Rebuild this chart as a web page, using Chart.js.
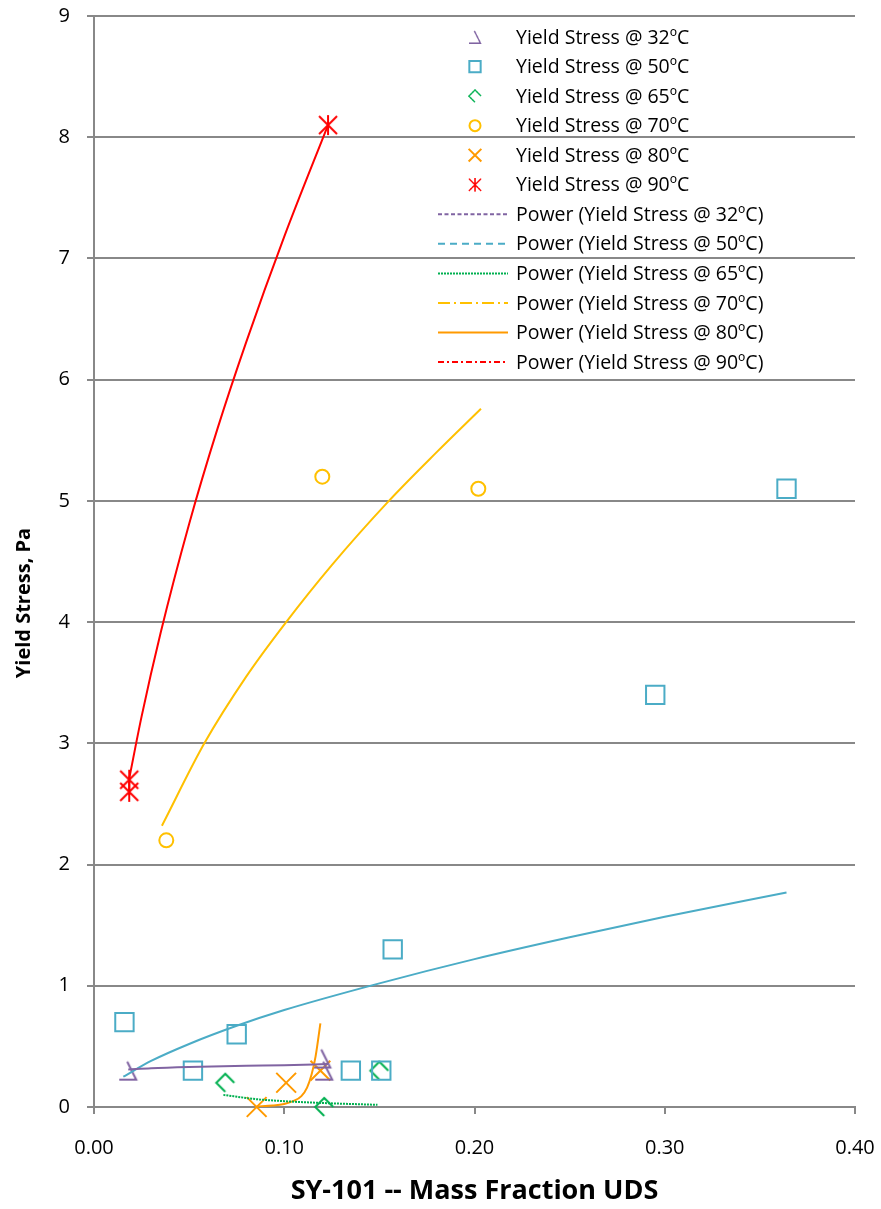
<!DOCTYPE html>
<html>
<head>
<meta charset="utf-8">
<script src="https://cdn.jsdelivr.net/npm/chart.js@4.4.0/dist/chart.umd.min.js"></script>
<style>
  html,body{margin:0;padding:0;background:#fff;}
  #wrap{width:881px;height:1209px;}
</style>
</head>
<body>
<div id="wrap"><canvas id="chart" width="881" height="1209"></canvas></div>
<script>
// ---------- data ----------
const xTicks = [0.00, 0.10, 0.20, 0.30, 0.40];
const yTicks = [0, 1, 2, 3, 4, 5, 6, 7, 8, 9];

// measured points
const x32 = [0.018, 0.121, 0.120];
const y32 = [0.3, 0.3, 0.4];
const x50 = [0.016, 0.052, 0.075, 0.135, 0.151, 0.157, 0.295, 0.364];
const y50 = [0.7, 0.3, 0.6, 0.3, 0.3, 1.3, 3.4, 5.1];
const x65 = [0.069, 0.121, 0.150];
const y65 = [0.2, 0.0, 0.3];
const x70 = [0.038, 0.120, 0.202];
const y70 = [2.2, 5.2, 5.1];
const x80 = [0.0855, 0.101, 0.119];
const y80 = [0.0, 0.2, 0.3];
const x90 = [0.0185, 0.0185, 0.123];
const y90 = [2.6, 2.7, 8.1];

// power trendlines, sampled along the drawn curves
const tx32 = [0.018, 0.03, 0.05, 0.08, 0.10, 0.123];
const ty32 = [0.31, 0.32, 0.33, 0.34, 0.345, 0.355];
const tx50 = [0.0154, 0.03, 0.05, 0.075, 0.10, 0.15, 0.20, 0.25, 0.30, 0.364];
const ty50 = [0.25, 0.38, 0.52, 0.67, 0.80, 1.02, 1.22, 1.40, 1.57, 1.77];
const tx65 = [0.068, 0.085, 0.10, 0.12, 0.149];
const ty65 = [0.10, 0.065, 0.048, 0.033, 0.018];
const tx70 = [0.0357, 0.058, 0.080, 0.101, 0.125, 0.155, 0.180, 0.2034];
const ty70 = [2.32, 3.0, 3.55, 4.0, 4.47, 5.0, 5.4, 5.76];
const tx80 = [0.0855, 0.094, 0.100, 0.105, 0.109, 0.112, 0.1144, 0.1165, 0.119];
const ty80 = [0.004, 0.012, 0.025, 0.05, 0.09, 0.16, 0.27, 0.42, 0.69];
const tx90 = [0.0184, 0.025, 0.035, 0.05, 0.065, 0.08, 0.10, 0.123];
const ty90 = [2.7, 3.22, 3.91, 4.81, 5.6, 6.31, 7.18, 8.1];

const temps = ["32ºC", "50ºC", "65ºC", "70ºC", "80ºC", "90ºC"];
const colors = ["#8064a2", "#4bacc6", "#00b050", "#ffc000", "#ff9a00", "#ff0000"];

// ---------- helpers ----------
const FONT = "'Open Sans', Lato, sans-serif";
const pts = (xs, ys) => xs.map((x, i) => ({ x: x, y: ys[i] }));

function mk(draw){
  const c = document.createElement("canvas");
  c.width = 22; c.height = 22;
  const g = c.getContext("2d");
  g.lineWidth = 2; g.lineJoin = "miter";
  draw(g);
  return c;
}
// Excel-ish marker shapes
const triMark = mk(g=>{ g.strokeStyle = colors[0]; g.beginPath(); g.moveTo(10,2); g.lineTo(19,20); g.lineTo(2,20); g.stroke(); });
const diaMark = mk(g=>{ g.strokeStyle = colors[2]; g.beginPath(); g.moveTo(20,11); g.lineTo(11,2); g.lineTo(2,11); g.lineTo(11,20); g.stroke(); });
const starMark = mk(g=>{ g.strokeStyle = colors[5]; g.beginPath();
  g.moveTo(2,2); g.lineTo(20,20); g.moveTo(20,2); g.lineTo(2,20); g.moveTo(11,1); g.lineTo(11,21); g.stroke(); });

const markStyle = [triMark, "rect", diaMark, "circle", "crossRot", starMark];
const markRadius = [11, 13, 11, 7, 14, 11];
const legendRadius = [0, 8, 0, 5.5, 9, 0];
const legendDash = [[4,2.5], [7,5], [2,1], [12,4,2,4], [], [6,3,2,3]];
const plotDash = [[], [], [2,1], [], [], []];

const pointX = [x32, x50, x65, x70, x80, x90];
const pointY = [y32, y50, y65, y70, y80, y90];
const trendX = [tx32, tx50, tx65, tx70, tx80, tx90];
const trendY = [ty32, ty50, ty65, ty70, ty80, ty90];

const datasets = [];
temps.forEach((t, i)=>{
  datasets.push({
    label: "Yield Stress @ " + t,
    data: pts(trendX[i], trendY[i]),
    showLine: true, pointRadius: 0, borderWidth: 2,
    borderColor: colors[i], borderDash: plotDash[i],
    cubicInterpolationMode: "monotone",
    _legend: { kind: "line", dash: legendDash[i] },
    _name: "Power (Yield Stress @ " + t + ")"
  });
});
temps.forEach((t, i)=>{
  datasets.push({
    label: "Yield Stress @ " + t,
    data: pts(pointX[i], pointY[i]),
    showLine: false, clip: false,
    pointStyle: markStyle[i], pointRadius: markRadius[i], pointHoverRadius: markRadius[i],
    borderColor: colors[i], backgroundColor: "rgba(0,0,0,0)", pointBorderWidth: 2,
    _legend: { kind: "point", r: legendRadius[i] },
    _name: "Yield Stress @ " + t
  });
});

// legend drawn inside the plot, like the Excel one
const legendPlugin = {
  id: "excelLegend",
  afterDraw(chart){
    const ctx = chart.ctx;
    const order = [6,7,8,9,10,11,0,1,2,3,4,5];
    ctx.save();
    ctx.font = "19.5px " + FONT;
    ctx.textBaseline = "middle";
    ctx.fillStyle = "#000";
    order.forEach((di, row)=>{
      const ds = chart.data.datasets[di];
      const cy = 37 + row * 29.55;
      if (ds._legend.kind === "point"){
        const st = ds.pointStyle;
        if (st instanceof HTMLCanvasElement){
          ctx.drawImage(st, 475 - 7.5, cy - 7.5, 15, 15);
        } else {
          ctx.save();
          ctx.strokeStyle = ds.borderColor; ctx.fillStyle = "rgba(0,0,0,0)"; ctx.lineWidth = 2;
          Chart.helpers.drawPoint(ctx, { pointStyle: st, radius: ds._legend.r, borderWidth: 2, rotation: 0 }, 475, cy);
          ctx.restore();
        }
      } else {
        ctx.save();
        ctx.strokeStyle = ds.borderColor; ctx.lineWidth = 2;
        ctx.setLineDash(ds._legend.dash);
        ctx.beginPath(); ctx.moveTo(438, cy); ctx.lineTo(508, cy); ctx.stroke();
        ctx.restore();
      }
      ctx.fillStyle = "#000";
      ctx.fillText(ds._name, 516, cy + 1);
    });
    // y axis title
    ctx.save();
    ctx.translate(24, 603);
    ctx.rotate(-Math.PI / 2);
    ctx.font = "bold 20px " + FONT;
    ctx.textAlign = "center";
    ctx.textBaseline = "middle";
    ctx.fillText("Yield Stress, Pa", 0, 0);
    ctx.restore();
    ctx.restore();
  }
};

const GRID = "#888888";

new Chart(document.getElementById("chart"), {
  type: "scatter",
  data: { datasets: datasets },
  options: {
    responsive: false,
    animation: false,
    devicePixelRatio: 1,
    layout: { padding: { top: 15, right: 26, left: 0, bottom: 0 } },
    plugins: { legend: { display: false }, tooltip: { enabled: false } },
    scales: {
      x: {
        type: "linear", min: 0, max: 0.4,
        afterFit: s => { s.height = 102; s.paddingLeft = 0; s.paddingRight = 0; },
        afterBuildTicks: s => { s.ticks = xTicks.map(v => ({ value: v })); },
        ticks: { callback: v => Number(v).toFixed(2), color: "#000", font: { family: FONT, size: 20 }, padding: 22, maxRotation: 0 },
        grid: { drawOnChartArea: false, drawTicks: true, tickLength: 7, color: GRID, lineWidth: 2 },
        border: { display: true, color: GRID, width: 2 },
        title: { display: true, text: "SY-101 -- Mass Fraction UDS", color: "#000",
                 font: { family: FONT, size: 27, weight: "bold" }, padding: { top: 0, bottom: 1 } }
      },
      y: {
        type: "linear", min: 0, max: 9,
        afterFit: s => { s.width = 94; s.paddingTop = 0; s.paddingBottom = 0; },
        afterBuildTicks: s => { s.ticks = yTicks.map(v => ({ value: v })); },
        ticks: { color: "#000", font: { family: FONT, size: 20 }, padding: 17 },
        grid: { color: GRID, lineWidth: 2, tickLength: 7 },
        border: { display: true, color: GRID, width: 2 }
      }
    }
  },
  plugins: [legendPlugin]
});
</script>
</body>
</html>
